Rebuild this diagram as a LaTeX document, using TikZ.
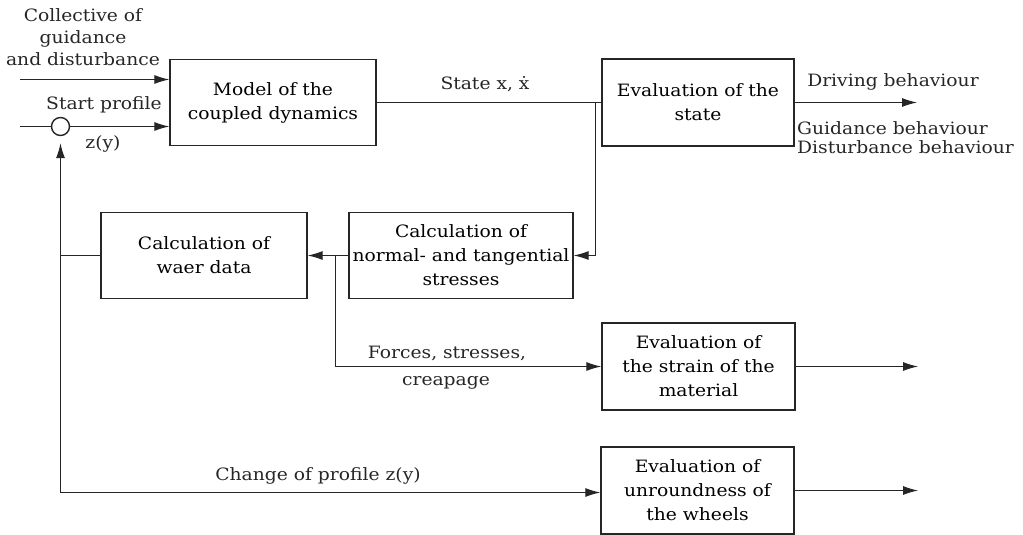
\documentclass[tikz,border=0pt]{standalone}
\usepackage{fontspec}
\setmainfont{DejaVu Serif}[FakeStretch=1.1]
\usetikzlibrary{arrows.meta,calc}
\begin{document}
\begin{tikzpicture}[x=1pt,y=-1pt,
  font=\fontsize{17}{24}\selectfont,
  blk/.style={draw=black!85,line width=1.4pt,align=center,inner sep=0pt,minimum width=#1},
  blk/.default=193pt,
  ln/.style={line width=1pt,draw=black!85},
  arr/.style={ln,-{Latex[length=15pt,width=9pt]}},
  lbl/.style={inner sep=0pt,text=black!85}]
\useasboundingbox (0,0) rectangle (1023,535);
% boxes
\node[blk=206pt,minimum height=86pt] (model) at (273,102.5) {Model of the\\coupled dynamics};
\node[blk=192pt,minimum height=87pt] (evst) at (698,102.5) {Evaluation of the\\state};
\node[blk=206pt,minimum height=86pt] (waer) at (204,255.5) {Calculation of\\waer data};
\node[blk=224pt,minimum height=86pt] (calc) at (461,255.5) {Calculation of\\normal- and tangential\\stresses};
\node[blk=193pt,minimum height=87pt] (strain) at (698.5,366.5) {Evaluation of\\the strain of the\\material};
\node[blk=193pt,minimum height=87pt] (unr) at (697.5,490.5) {Evaluation of\\unroundness of\\the wheels};
\node[draw=black!85,line width=1.4pt,circle,minimum size=18pt,inner sep=0pt] (circ) at (60.5,126.5) {};
% coordinates
\coordinate (in1) at (20,79.5);
\coordinate (in2) at (20,126.5);
\coordinate (br1) at (595.5,0);
\coordinate (br2) at (335.5,0);
\coordinate (lc) at (60.5,492.5);
\coordinate (o1) at (917,0);
\coordinate (o2) at (918,0);
% connectors
\draw[arr] (in1) -- (in1 -| model.west);
\draw[ln] (in2) -- (circ.west);
\draw[arr] (circ.east) -- (circ.east -| model.west);
\draw[ln] (model.east) -- (evst.west);
\draw[arr] (evst.west -| br1) |- (calc.east);
\draw[arr] (calc.west) -- (waer.east);
\draw[arr] (calc.west -| br2) |- (strain.west);
\draw[ln] (waer.west) -- (waer.west -| circ);
\draw[arr,shorten >=7pt] (lc) -- (circ.south);
\draw[arr] (lc) -- (lc -| unr.west);
\draw[arr] (evst.east) -- (evst.east -| o1);
\draw[arr] (strain.east) -- (strain.east -| o2);
\draw[arr] (unr.east) -- (unr.east -| o2);
% labels
\node[lbl,align=center,font=\fontsize{17}{22}\selectfont] (tcoll) at (83,37) {Collective of\\guidance\\and disturbance};
\node[lbl] (tstart) at (104,105) {Start profile};
\node[lbl] (tzy) at (103,144) {z(y)};
\node[lbl] (tstate) at (485,84) {State x, ẋ};
\node[lbl] (tdrive) at (893,82) {Driving behaviour};
\node[lbl,align=left,anchor=west,font=\fontsize{17}{19}\selectfont] (tguid) at (797,138) {Guidance behaviour\\Disturbance behaviour};
\node[lbl] (tforce) at (447,353) {Forces, stresses,};
\node[lbl] (tcreap) at (446,383) {creapage};
\node[lbl] (tchange) at (318,476) {Change of profile z(y)};
\end{tikzpicture}
\end{document}
